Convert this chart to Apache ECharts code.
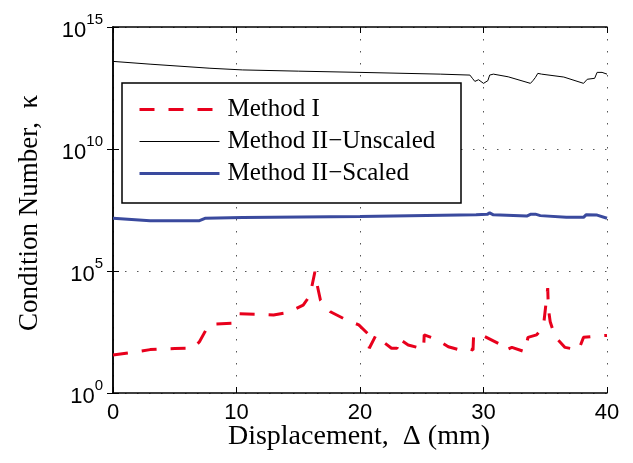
<!DOCTYPE html>
<html>
<head>
<meta charset="utf-8">
<script src="https://cdn.jsdelivr.net/npm/echarts@6/dist/echarts.min.js"></script>
<style>html,body{margin:0;padding:0;background:#fff;}#c{width:633px;height:463px;}</style>
</head>
<body>
<div id="c"></div>
<script>
// Displacement (mm) / condition number pairs
const methodI = [
  [0, 36], [2, 50], [3, 60], [5, 66], [6.5, 69], [7.0, 126], [7.6, 447], [8.0, 660],
  [9.6, 724], [10.0, 1780], [11.6, 1700], [13, 1585], [14.2, 2000], [15.4, 3980],
  [15.95, 1e4], [16.35, 9.3e4], [16.5, 3.16e4], [16.8, 6300], [17.6, 2140], [18.8, 1050],
  [19.9, 617], [20.7, 251], [20.75, 68], [21.3, 240], [22.0, 112], [22.55, 68], [23.0, 68],
  [23.1, 174], [23.9, 93], [25.15, 63], [25.2, 240], [26.2, 158], [27.15, 79], [28.1, 58],
  [28.6, 70], [29.15, 58], [29.2, 240], [30.0, 219], [31.2, 107], [31.7, 54], [32.3, 74],
  [33.35, 49], [33.6, 191], [34.3, 240], [34.85, 525], [35.2, 2e4], [35.25, 3000],
  [35.4, 832], [35.8, 204], [36.6, 74], [37.7, 58], [38.1, 191], [39.3, 219], [40, 229]
];
const unscaled = [
  [0, 3.89e13], [3, 3.0e13], [7.85, 2.04e13], [10.5, 1.74e13], [15, 1.55e13], [20, 1.38e13],
  [26.5, 1.17e13], [28.9, 1.07e13], [29.1, 7.9e12], [29.3, 5.9e12], [29.6, 6.9e12],
  [30.0, 4.9e12], [30.35, 6.3e12], [30.5, 1.07e13], [30.8, 1.17e13], [32, 9.1e12],
  [33.8, 4.9e12], [34.0, 6.3e12], [34.2, 8.5e12], [34.4, 1.26e13], [34.7, 1.17e13],
  [36.5, 8.9e12], [38.1, 4.9e12], [38.4, 7.2e12], [39.0, 7.9e12], [39.2, 1.38e13],
  [39.6, 1.38e13], [39.75, 1.17e13], [40, 1.17e13]
];
const scaled = [
  [0, 1.45e7], [3, 1.15e7], [7.0, 1.15e7], [7.45, 1.45e7], [10.5, 1.55e7], [20, 1.7e7],
  [29.4, 2.0e7], [30.3, 2.1e7], [30.5, 2.4e7], [30.8, 2.0e7], [33.5, 1.78e7], [33.8, 2.1e7],
  [34.2, 2.14e7], [34.6, 1.86e7], [36.7, 1.58e7], [38.1, 1.58e7], [38.3, 2.0e7],
  [39.2, 1.95e7], [40, 1.45e7]
];
const seriesNames = ['Method I', 'Method II\u2212Unscaled', 'Method II\u2212Scaled'];
const xTicks = [0, 10, 20, 30, 40];
const yTickExponents = [0, 5, 10, 15];

const chart = echarts.init(document.getElementById('c'), null, {renderer: 'canvas'});
const dotted = {color: '#555', width: 1, type: [1.5, 10.5]};
const tickStyle = {show: true, inside: true, length: 6, lineStyle: {color: '#000', width: 1}};
const axisLineStyle = {show: true, lineStyle: {color: '#000', width: 1.5}};
const serif = '"Liberation Serif", "Times New Roman", serif';
const sans = '"Liberation Sans", Arial, sans-serif';

chart.setOption({
  animation: false,
  backgroundColor: '#fff',
  grid: {left: 113, right: 26, top: 27, bottom: 70, containLabel: false},
  xAxis: [{
    type: 'value', min: xTicks[0], max: xTicks[xTicks.length - 1], interval: 10, position: 'bottom',
    axisLine: axisLineStyle, axisTick: tickStyle,
    axisLabel: {color: '#000', fontSize: 22, fontFamily: sans, margin: 9},
    splitLine: {show: true, lineStyle: dotted}
  }, {
    type: 'value', min: 0, max: 40, interval: 10, position: 'top',
    axisLine: axisLineStyle, axisTick: tickStyle, axisLabel: {show: false}, splitLine: {show: false}
  }],
  yAxis: [{
    type: 'log', logBase: 1e5, min: 1, max: 1e15, position: 'left',
    axisLine: axisLineStyle, axisTick: tickStyle, minorTick: {show: false},
    axisLabel: {
      color: '#000', margin: 10,
      formatter: function (v) {
        const e = Math.round(Math.log10(v));
        return '{b|10}{s|' + e + '}';
      },
      rich: {
        b: {fontSize: 22, fontFamily: sans, color: '#000', verticalAlign: 'bottom', lineHeight: 30},
        s: {fontSize: 15, fontFamily: sans, color: '#000', verticalAlign: 'top', lineHeight: 30}
      }
    },
    splitLine: {show: true, lineStyle: dotted}
  }, {
    type: 'log', logBase: 1e5, min: 1, max: 1e15, position: 'right',
    axisLine: axisLineStyle, axisTick: tickStyle, axisLabel: {show: false}, splitLine: {show: false}
  }],
  legend: {
    orient: 'vertical', left: 138, top: 97, padding: 0,
    itemWidth: 80, itemHeight: 24, itemGap: 7,
    data: seriesNames,
    itemStyle: {opacity: 0},
    lineStyle: {width: 'inherit'},
    textStyle: {fontSize: 25, fontFamily: serif, color: '#000', lineHeight: 24, padding: [0, 0, 0, 3]},
    selectedMode: false, z: 10
  },
  graphic: [
    {type: 'rect', z: 5, shape: {x: 122, y: 83, width: 339, height: 120},
     style: {fill: '#fff', stroke: '#000', lineWidth: 1.5}},
    {type: 'text', z: 5, x: 359, y: 437,
     style: {text: 'Displacement,  \u0394 (mm)', font: '28px ' + serif, fill: '#000',
             align: 'center', verticalAlign: 'middle'}},
    {type: 'text', z: 5, x: 30, y: 213, rotation: Math.PI / 2,
     style: {text: 'Condition Number,  \u03ba', font: '27px ' + serif, fill: '#000',
             align: 'center', verticalAlign: 'middle'}}
  ],
  series: [{
    name: seriesNames[0], type: 'line', data: methodI, symbol: 'none', showSymbol: false,
    lineStyle: {color: '#e8001c', width: 3, type: [15, 14]}, itemStyle: {color: '#e8001c'}, z: 3
  }, {
    name: seriesNames[1], type: 'line', data: unscaled, symbol: 'none', showSymbol: false,
    lineStyle: {color: '#000', width: 1}, itemStyle: {color: '#000'}, z: 3
  }, {
    name: seriesNames[2], type: 'line', data: scaled, symbol: 'none', showSymbol: false,
    lineStyle: {color: '#3a4a9e', width: 3}, itemStyle: {color: '#3a4a9e'}, z: 3
  }]
});
</script>
</body>
</html>
